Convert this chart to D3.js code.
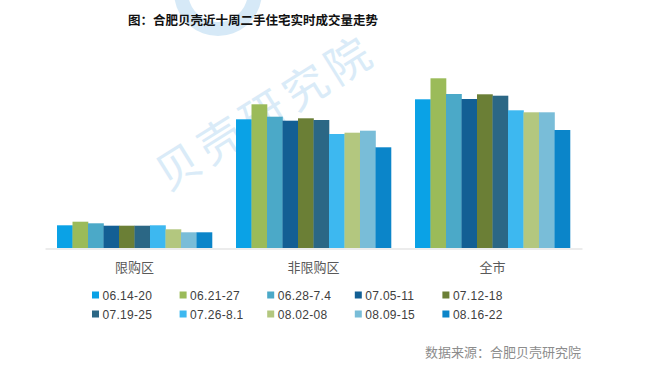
<!DOCTYPE html>
<html>
<head>
<meta charset="utf-8">
<script src="https://cdn.jsdelivr.net/npm/d3@7"></script>
<style>
  html, body { margin: 0; padding: 0; background: #fff; }
  svg { display: block; font-family: "Noto Sans CJK SC", "Liberation Sans", sans-serif; }
</style>
</head>
<body>
<svg id="chart" width="650" height="365"></svg>
<script>
// categories on the x axis
const categories = ['限购区', '非限购区', '全市'];
// the ten weeks (legend / series)
const weeks = ['06.14-20', '06.21-27', '06.28-7.4', '07.05-11', '07.12-18',
               '07.19-25', '07.26-8.1', '08.02-08', '08.09-15', '08.16-22'];
// volumes per week (no axis in source, relative units)
const limited    = [22.7, 26.3, 24.7, 22.3, 22.3, 22.3, 22.7, 18.7, 15.7, 15.7];
const nonLimited = [128.7, 143.7, 131.3, 127.3, 129.7, 128, 114, 115.3, 117.3, 100.7];
const wholeCity  = [148.7, 169.7, 154, 149, 153.7, 152.3, 137.7, 135.7, 135.7, 118];
const colors = ['#0aa2e6', '#9bbb59', '#4ba9c8', '#135f94', '#6b7f36',
                '#2b6785', '#3db8f0', '#b3c77f', '#79bdd8', '#0b85c9'];

const seriesByCat = [limited, nonLimited, wholeCity];

const svg = d3.select('#chart');
const baseY = 248;

// watermark
const wm = svg.append('g').attr('opacity', 0.6);
wm.append('path')
  .attr('d', d3.arc()({ innerRadius: 30, outerRadius: 44, startAngle: Math.PI * 0.55, endAngle: Math.PI * 1.45 }))
  .attr('transform', 'translate(218,-8)')
  .attr('fill', '#bcdcf2');
wm.append('text')
  .attr('transform', 'translate(168,192) rotate(-32)')
  .attr('font-size', 44)
  .attr('letter-spacing', 6)
  .attr('fill', '#c2dff4')
  .text('贝壳研究院');

const x0 = d3.scaleBand()
  .domain(categories)
  .range([45, 582])
  .padding(0);

const x1 = d3.scaleBand()
  .domain(weeks)
  .range([0, x0.bandwidth()])
  .paddingInner(0)
  .paddingOuter(0.775);

const y = d3.scaleLinear()
  .domain([0, 200])
  .range([baseY, baseY - 200]);

// bars
const groups = svg.append('g').selectAll('g')
  .data(categories)
  .join('g')
  .attr('transform', d => `translate(${x0(d)},0)`);

groups.selectAll('rect')
  .data((d, i) => seriesByCat[i].map((v, j) => ({ week: weeks[j], value: v, color: colors[j] })))
  .join('rect')
  .attr('x', d => x1(d.week))
  .attr('y', d => y(d.value))
  .attr('width', x1.bandwidth() + 0.3)
  .attr('height', d => baseY - y(d.value))
  .attr('fill', d => d.color);

// x axis
const xAxis = svg.append('g')
  .attr('transform', `translate(0,${baseY + 0.5})`)
  .call(d3.axisBottom(x0).tickSize(0).tickSizeOuter(0).tickPadding(14));
xAxis.select('.domain').attr('stroke', '#d9d9d9');
xAxis.selectAll('text')
  .attr('font-size', 13)
  .attr('fill', '#595959')
  .attr('font-family', '"Noto Sans CJK SC", sans-serif');

// title
svg.append('text')
  .attr('x', 253)
  .attr('y', 25)
  .attr('text-anchor', 'middle')
  .attr('font-size', 12.5)
  .attr('font-weight', 'bold')
  .attr('fill', '#111')
  .text('图：合肥贝壳近十周二手住宅实时成交量走势');

// legend
const legend = svg.append('g').selectAll('g')
  .data(weeks)
  .join('g')
  .attr('transform', (d, i) => `translate(${92 + (i % 5) * 87.6},${295 + Math.floor(i / 5) * 19})`);

legend.append('rect')
  .attr('x', 0)
  .attr('y', -3.5)
  .attr('width', 7)
  .attr('height', 7)
  .attr('fill', (d, i) => colors[i]);

legend.append('text')
  .attr('x', 10.5)
  .attr('y', 4.5)
  .attr('font-size', 12)
  .attr('font-family', '"Liberation Sans", Arial, sans-serif')
  .attr('letter-spacing', 0.3)
  .attr('fill', '#404040')
  .text(d => d);

// source note
svg.append('text')
  .attr('x', 425)
  .attr('y', 357)
  .attr('font-size', 13)
  .attr('fill', '#8c8c8c')
  .text('数据来源：合肥贝壳研究院');
</script>
</body>
</html>
